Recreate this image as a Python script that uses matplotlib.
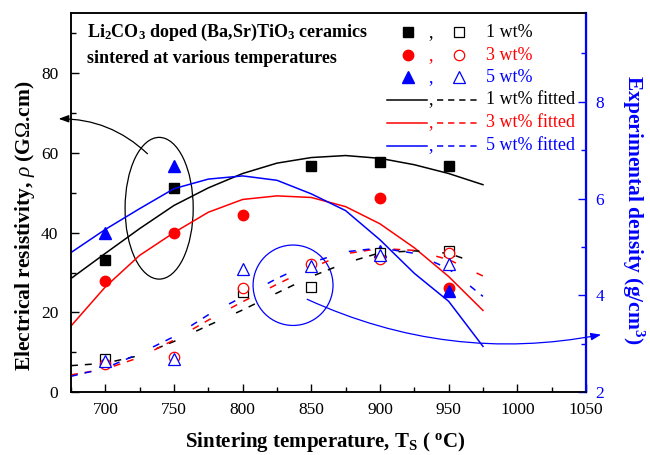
import numpy as np
import matplotlib
matplotlib.use('Agg')
import matplotlib.pyplot as plt
from matplotlib.patches import Ellipse
from matplotlib.ticker import MultipleLocator

plt.rcParams['font.family'] = ['Liberation Serif', 'DejaVu Serif']
plt.rcParams['mathtext.fontset'] = 'custom'
plt.rcParams['mathtext.rm'] = 'Liberation Serif'
plt.rcParams['mathtext.it'] = 'Liberation Serif:italic'
plt.rcParams['mathtext.bf'] = 'Liberation Serif:bold'
plt.rcParams['lines.scale_dashes'] = False

# resistivity (G ohm.cm), filled markers, left axis
t_rho_1 = [700, 750, 850, 900, 950]
rho_1 = [33.2, 51.2, 56.8, 57.6, 56.8]
t_rho_3 = [700, 750, 800, 900, 950]
rho_3 = [28.0, 39.9, 44.5, 48.7, 26.2]
t_rho_5 = [700, 750, 900, 950]
rho_5 = [39.8, 56.6, 35.5, 25.4]

# density (g/cm3), open markers, right axis
t_den_1 = [700, 800, 850, 900, 950]
den_1 = [2.68, 4.08, 4.17, 4.87, 4.92]
t_den_3 = [700, 750, 800, 850, 900, 950]
den_3 = [2.58, 2.72, 4.15, 4.65, 4.75, 4.87]
t_den_5 = [700, 750, 800, 850, 900, 950]
den_5 = [2.65, 2.69, 4.55, 4.61, 4.84, 4.65]

# fitted curves
t_fit = [675, 700, 725, 750, 775, 800, 825, 850, 875, 900, 925, 950, 975]
rho_fit_1 = [28.5, 34.8, 41.0, 46.8, 51.2, 54.8, 57.4, 58.8, 59.3, 58.6, 57.0, 54.8, 52.0]
rho_fit_3 = [16.6, 26.4, 34.3, 40.0, 45.1, 48.3, 49.2, 48.8, 46.5, 42.2, 36.2, 29.0, 20.5]
rho_fit_5 = [35.0, 40.8, 46.0, 51.0, 53.4, 54.2, 53.1, 49.7, 45.5, 38.2, 29.8, 22.8, 11.5]
den_fit_1 = [2.55, 2.60, 2.76, 3.05, 3.38, 3.70, 4.05, 4.39, 4.67, 4.88, 4.92, 4.87, 4.62]
den_fit_3 = [2.36, 2.48, 2.72, 3.08, 3.49, 3.87, 4.23, 4.57, 4.86, 4.97, 4.93, 4.74, 4.40]
den_fit_5 = [2.33, 2.50, 2.80, 3.15, 3.60, 3.97, 4.35, 4.68, 4.90, 4.98, 4.87, 4.55, 3.98]

colors = ['black', 'red', 'blue']
labels = ['1 wt%', '3 wt%', '5 wt%']
fill_markers = ['s', 'o', '^']
msizes = [6.5, 7.5, 8.5]
dash_fit = (5, 5, 5, 16.5)

fig = plt.figure(figsize=(6.5, 4.55), dpi=100)
ax = fig.add_axes([0.1092, 0.1378, 0.7923, 0.8336])
ax2 = ax.twinx()

rho_t = [t_rho_1, t_rho_3, t_rho_5]
rho_v = [rho_1, rho_3, rho_5]
den_t = [t_den_1, t_den_3, t_den_5]
den_v = [den_1, den_3, den_5]
rho_f = [rho_fit_1, rho_fit_3, rho_fit_5]
den_f = [den_fit_1, den_fit_3, den_fit_5]

for i in range(3):
    ax.plot(t_fit, rho_f[i], '-', color=colors[i], lw=1.1)
    ax.plot(rho_t[i], rho_v[i], linestyle='none', marker=fill_markers[i],
            ms=msizes[i], color=colors[i], mec=colors[i])
for i in range(3):
    ax2.plot(t_fit, den_f[i], color=colors[i], lw=1.1, dashes=dash_fit)
for i in range(3):
    ax2.plot(den_t[i], den_v[i], linestyle='none', marker=fill_markers[i],
             ms=msizes[i], mfc='white', mec=colors[i], mew=0.9)

ax.set_xlim(675, 1050)
ax.set_ylim(0, 95)
ax2.set_ylim(2, 9.83)

ax.xaxis.set_major_locator(MultipleLocator(50))
ax.xaxis.set_minor_locator(MultipleLocator(25))
ax.yaxis.set_major_locator(MultipleLocator(20))
ax.yaxis.set_minor_locator(MultipleLocator(10))
ax2.yaxis.set_major_locator(MultipleLocator(2))
ax2.yaxis.set_minor_locator(MultipleLocator(1))

ax.tick_params(which='both', direction='in', top=False, right=False, width=1)
ax.tick_params(which='major', length=6, labelsize=12.5)
ax.tick_params(which='minor', length=3.5)
ax.tick_params(axis='x', pad=7)
ax.tick_params(axis='y', pad=9)
ax2.tick_params(which='both', direction='in', colors='blue', width=1)
ax2.tick_params(which='major', length=6, labelsize=12.5, pad=7)
ax2.tick_params(which='minor', length=3.5)
for sp in ['left', 'bottom', 'top']:
    ax.spines[sp].set_linewidth(1.1)
    ax2.spines[sp].set_linewidth(1.1)
ax2.spines['right'].set_color('blue')
ax2.spines['right'].set_linewidth(1.6)

ax.text(0.493, -0.13, r'Sintering temperature, T$_\mathbf{S}$ ( $^\mathbf{o}$C)',
        transform=ax.transAxes, ha='center', va='center', fontsize=15, fontweight='bold')
ax.text(-0.09, 0.44, r'Electrical resistivity, $\rho$ (G$\Omega$.cm)',
        transform=ax.transAxes, ha='center', va='center', rotation=90,
        fontsize=15.5, fontweight='bold')
ax.text(1.092, 0.48, r'Experimental density (g/cm$^\mathbf{3}$)', color='blue',
        transform=ax.transAxes, ha='center', va='center', rotation=270,
        fontsize=15.5, fontweight='bold')

ax.text(0.031, 0.950, r'Li$_\mathbf{2}$CO$_\mathbf{3}$ doped (Ba,Sr)TiO$_\mathbf{3}$ ceramics',
        transform=ax.transAxes, ha='left', va='center', fontsize=13, fontweight='bold')
ax.text(0.031, 0.881, 'sintered at various temperatures',
        transform=ax.transAxes, ha='left', va='center', fontsize=13, fontweight='bold')

# annotation ellipses and arrows
ax.add_patch(Ellipse((739.2, 46.1), 49.6, 35.5, fill=False, ec='black', lw=0.9))
ax.annotate('', xy=(666, 68.5), xytext=(730.7, 59.75), annotation_clip=False,
            arrowprops=dict(arrowstyle='-|>,head_length=0.6,head_width=0.22',
                            connectionstyle='arc3,rad=0.2', color='black', lw=0.9,
                            shrinkA=0, shrinkB=0))
ax2.add_patch(Ellipse((836.7, 4.21), 58.2, 1.66, fill=False, ec='blue', lw=0.9))
ax2.annotate('', xy=(1061, 3.19), xytext=(847, 3.92), annotation_clip=False,
             arrowprops=dict(arrowstyle='-|>,head_length=0.6,head_width=0.22',
                             connectionstyle='arc3,rad=0.16', color='blue', lw=0.9,
                             shrinkA=0, shrinkB=0))

# hand-made legend in axes fraction
rows = [0.949, 0.889, 0.830, 0.771, 0.711, 0.650]
for i in range(3):
    y = rows[i]
    ax2.plot([0.654], [y], transform=ax.transAxes, clip_on=False, linestyle='none',
             marker=fill_markers[i], ms=msizes[i], color=colors[i])
    ax2.text(0.698, y, ',', transform=ax.transAxes, color=colors[i],
             ha='center', va='center', fontsize=13)
    ax2.plot([0.753], [y], transform=ax.transAxes, clip_on=False, linestyle='none',
             marker=fill_markers[i], ms=msizes[i], mfc='white', mec=colors[i], mew=0.9)
    ax2.text(0.806, y, labels[i], transform=ax.transAxes, color=colors[i],
             ha='left', va='center', fontsize=13)
for i in range(3):
    y = rows[i + 3]
    ax2.plot([0.613, 0.691], [y, y], transform=ax.transAxes, color=colors[i], lw=1.1)
    ax2.text(0.698, y, ',', transform=ax.transAxes, color=colors[i],
             ha='center', va='center', fontsize=13)
    ax2.plot([0.710, 0.794], [y, y], transform=ax.transAxes, color=colors[i], lw=1.1,
             dashes=(4.5, 3.5))
    ax2.text(0.806, y, labels[i] + ' fitted', transform=ax.transAxes, color=colors[i],
             ha='left', va='center', fontsize=13)

fig.savefig('out.png', dpi=100)
